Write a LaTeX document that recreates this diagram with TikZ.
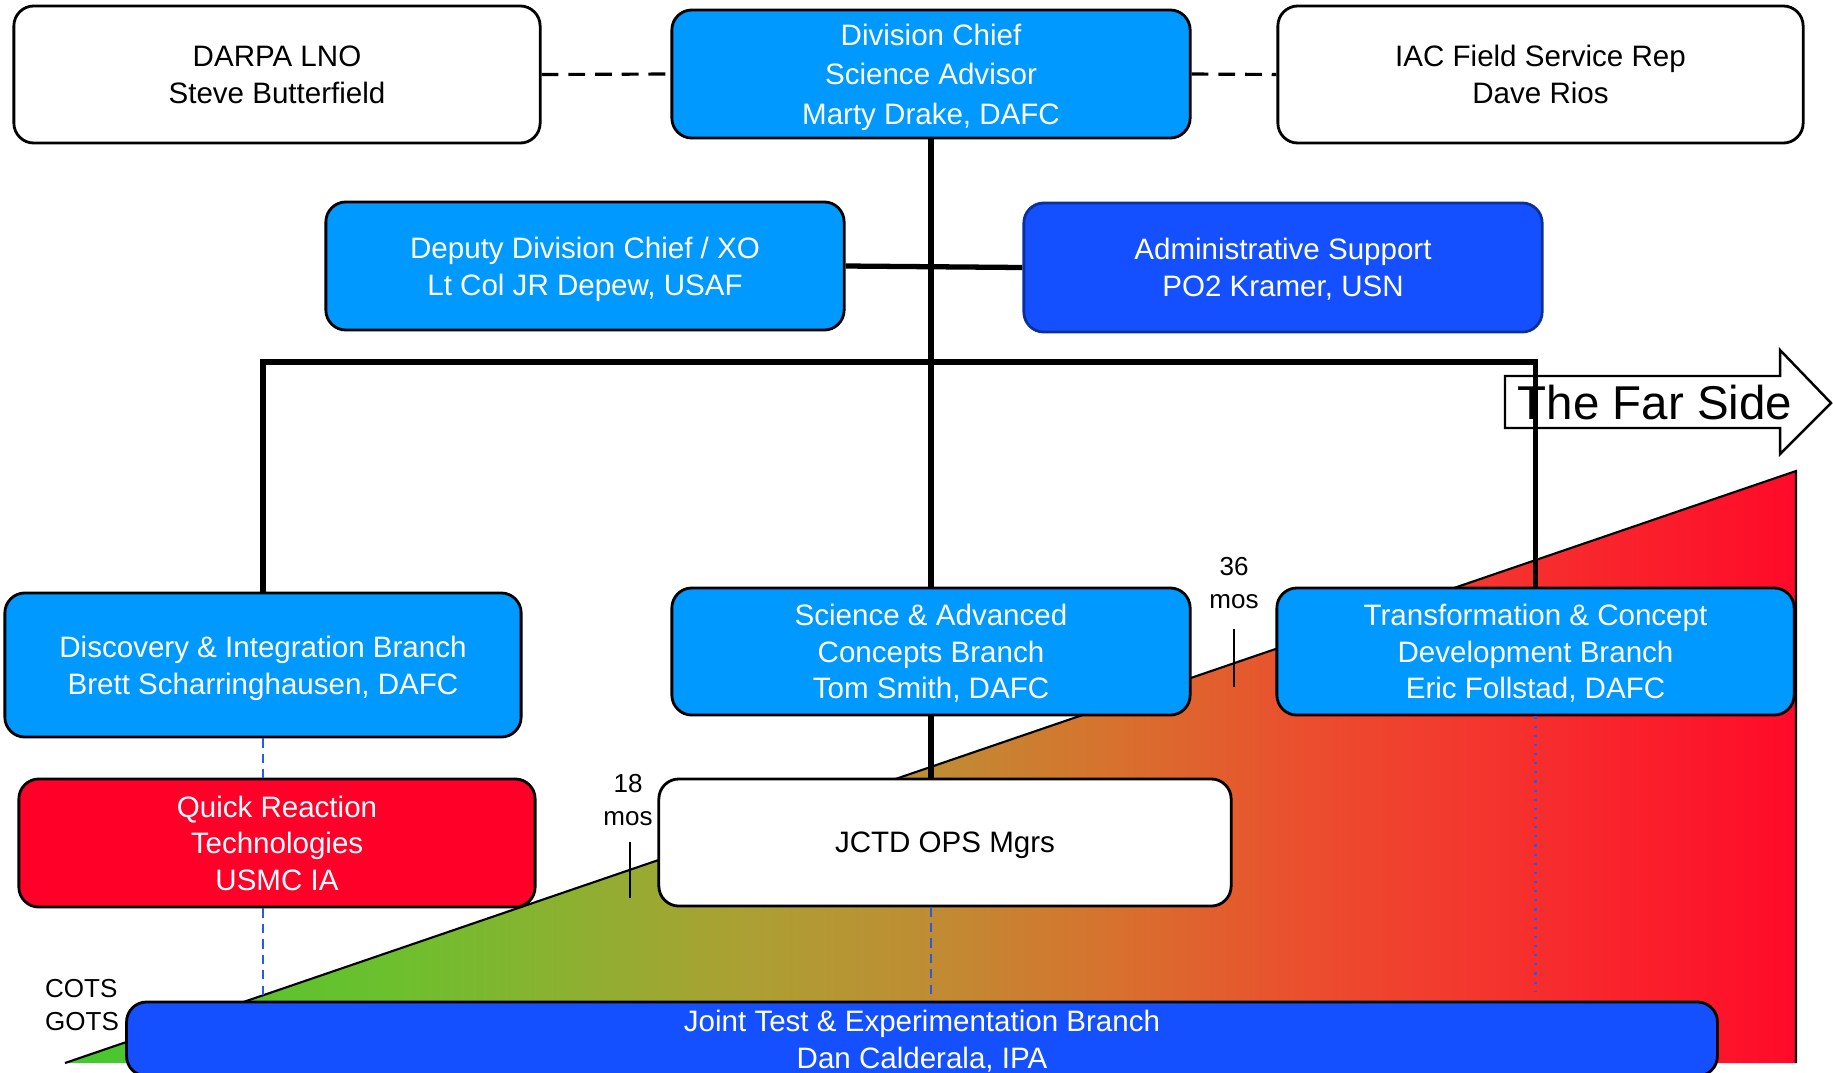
\documentclass[tikz,border=0pt]{standalone}
\usepackage{fontspec}
\setmainfont{Liberation Sans}
\usetikzlibrary{positioning, calc}
\definecolor{BranchBlue}{HTML}{0099FF}
\definecolor{StaffBlue}{HTML}{1450FF}
\definecolor{QuickRed}{HTML}{FF0029}
\definecolor{LinkBlue}{HTML}{2A5BE8}
\newcommand{\orgfont}{\fontsize{8.4}{10.4}\selectfont}
\newcommand{\tagfont}{\fontsize{7.4}{9.3}\selectfont}
% green (COTS/GOTS) to red (far side)
\pgfdeclarehorizontalshading{techwedge}{100bp}{%
  rgb(0bp)=(0.27,0.78,0.18); rgb(25bp)=(0.27,0.78,0.18);
  rgb(34.7bp)=(0.43,0.75,0.18); rgb(44.5bp)=(0.67,0.63,0.2);
  rgb(50bp)=(0.75,0.55,0.2); rgb(55bp)=(0.84,0.45,0.18);
  rgb(60.7bp)=(0.92,0.31,0.18); rgb(66.4bp)=(0.96,0.2,0.18);
  rgb(75bp)=(1,0.04,0.16); rgb(100bp)=(1,0.04,0.16)}

\begin{document}
\begin{tikzpicture}[
    x=0.01cm, y=-0.01cm,
    unitbox/.style={rounded corners=0.2cm, draw=black, line width=0.8pt, align=center,
        font=\orgfont, inner sep=0pt, text=white, text depth=0pt},
    branch/.style={unitbox, fill=BranchBlue, minimum width=5.18cm, minimum height=1.27cm},
    staff/.style={unitbox, fill=StaffBlue},
    liaison/.style={unitbox, fill=white, text=black},
    trunk/.style={line width=1.5pt},
    offline/.style={line width=0.9pt, dash pattern=on 4.8pt off 2.8pt},
    support/.style={LinkBlue, line width=0.6pt, dash pattern=on 2.6pt off 1.8pt},
    tag/.style={font=\tagfont, align=center, inner sep=0pt}
]
  \useasboundingbox (0,0) rectangle (1833,1072);
  \clip (0,0) rectangle (1833,1072);

  % Technology wedge (COTS/GOTS -> far side)
  \shade[shading=techwedge] (65,1063) -- (1796,471) -- (1796,1063) -- cycle;
  \draw[line width=0.6pt] (65,1063) -- (1796,471) -- (1796,1063);

  % Far side arrow
  \draw[fill=white, line width=0.7pt] (1505,376) -- (1780,376) -- (1780,350) -- (1831,403)
    -- (1780,454) -- (1780,428) -- (1505,428) -- cycle;
  \node[font=\fontsize{13.5}{15}\selectfont, inner sep=0pt] (farside) at (1655,403) {The Far Side};

  % Time marks
  \draw[line width=0.8pt] (630,842) -- (630,898);
  \draw[line width=0.8pt] (1234,629) -- (1234,687);
  \node[tag] (mos18) at (628,800) {18\\mos};
  \node[tag] (mos36) at (1234,583) {36\\mos};
  \node[tag, align=left] (cots) at (82,1005) {COTS\\GOTS};

  % Front office
  \node[liaison, minimum width=5.26cm, minimum height=1.37cm] (darpa) at (277,74.5) {DARPA LNO\\Steve Butterfield};
  \node[branch, minimum height=1.28cm, font=\fontsize{8.4}{11.2}\selectfont] (chief) at (931,74) {Division Chief\\Science Advisor\\Marty Drake, DAFC};
  \node[liaison, minimum width=5.25cm, minimum height=1.37cm] (iac) at (1540.5,74.5) {IAC Field Service Rep\\Dave Rios};
  \node[branch, minimum height=1.28cm] (deputy) at (585,266) {Deputy Division Chief / XO\\Lt Col JR Depew, USAF};
  \node[staff, draw=StaffBlue!60!black, minimum width=5.18cm, minimum height=1.29cm] (admin) at (1283,267.5) {Administrative Support\\PO2 Kramer, USN};

  % Branches
  \node[branch, minimum width=5.16cm, minimum height=1.44cm] (discovery) at (263,665) {Discovery \& Integration Branch\\Brett Scharringhausen, DAFC};
  \node[branch] (science) at (931,651.5) {Science \& Advanced\\Concepts Branch\\Tom Smith, DAFC};
  \node[branch, minimum width=5.17cm] (transform) at (1535.5,651.5) {Transformation \& Concept\\Development Branch\\Eric Follstad, DAFC};
  \node[unitbox, fill=QuickRed, minimum width=5.16cm, minimum height=1.28cm] (quick) at (277,843) {Quick Reaction\\Technologies\\USMC IA};
  \node[liaison, minimum width=5.72cm, minimum height=1.27cm] (jctd) at (945,842.5) {JCTD OPS Mgrs};
  \node[staff, minimum width=15.9cm, minimum height=0.74cm] (joint) at (922,1039) {Joint Test \& Experimentation Branch\\Dan Calderala, IPA};

  % Connectors
  \draw[offline] (darpa.east) -- (chief.west);
  \draw[offline] (chief.east) -- (iac.west);
  \draw[trunk] (deputy.east) -- (admin.west);
  \draw[trunk] (chief.south) -- (science.north);
  \coordinate (busleft) at (263,362);
  \coordinate (busright) at (1535.5,362);
  \draw[trunk] (discovery.north) -- (busleft) -- (busright) -- (transform.north);
  \draw[trunk] (science.south) -- (science.south |- jctd.north);
  \draw[support] (discovery.south) -- (discovery.south |- quick.north);
  \draw[support] (discovery.south |- quick.south) -- (discovery.south |- joint.north);
  \draw[support] (science.south |- jctd.south) -- (science.south |- joint.north);
  \coordinate (tcdend) at (1535.5,991);
  \draw[LinkBlue, line width=0.6pt, dotted] (transform.south) -- (tcdend);
\end{tikzpicture}
\end{document}
